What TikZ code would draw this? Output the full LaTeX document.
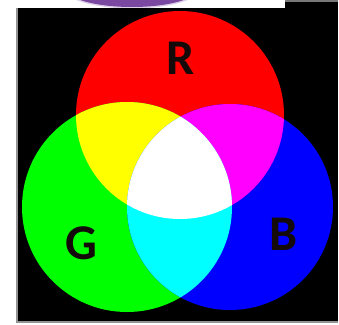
\documentclass[tikz,border=0pt]{standalone}
\usepackage{fontspec}
\setmainfont{Carlito}
\definecolor{lilac}{RGB}{122,72,160}
\definecolor{edgegray}{RGB}{120,120,120}
\definecolor{pR}{RGB}{255,0,0}
\definecolor{pG}{RGB}{0,255,0}
\definecolor{pB}{RGB}{0,0,255}
\definecolor{sY}{RGB}{255,255,0}
\definecolor{sM}{RGB}{255,0,255}
\definecolor{sC}{RGB}{0,255,255}
\definecolor{ink}{RGB}{20,10,10}
\begin{document}
\begin{tikzpicture}[x=1pt,y=-1pt,
  lbl/.style={text=ink, inner sep=0pt, font=\fontsize{50}{50}\selectfont\bfseries}]
\useasboundingbox (0,0) rectangle (339,324);
\fill[white] (0,0) rectangle (339,324);
% purple shape cut at top
\fill[lilac!25] (132,-11.5) ellipse [x radius=68pt, y radius=20pt];
\fill[lilac] (132,-11.5) ellipse [x radius=66pt, y radius=18.5pt];
% black background
\fill[black] (17,8) rectangle (338,322);
\fill[black] (285,0) rectangle (338,8);
\draw[edgegray, line width=1.5pt] (285,1) -- (338,1);
\draw[edgegray!80, line width=1.2pt] (17,8) -- (17,322) -- (338,322);
% circle centres
\coordinate (cR) at (180,115);
\coordinate (cG) at (127,207);
\coordinate (cB) at (230,207);
% primaries
\fill[pR] (cR) circle [radius=104pt];
\fill[pG] (cG) circle [radius=105pt];
\fill[pB] (cB) circle [radius=103pt];
% secondaries
\begin{scope}
  \clip (cR) circle [radius=104pt];
  \fill[sY] (cG) circle [radius=105pt];
\end{scope}
\begin{scope}
  \clip (cR) circle [radius=104pt];
  \fill[sM] (cB) circle [radius=103pt];
\end{scope}
\begin{scope}
  \clip (cG) circle [radius=105pt];
  \fill[sC] (cB) circle [radius=103pt];
\end{scope}
% white centre
\begin{scope}
  \clip (cR) circle [radius=104pt];
  \clip (cG) circle [radius=105pt];
  \fill[white] (cB) circle [radius=103pt];
\end{scope}
% labels
\node[lbl] (R) at (181,58) {R};
\node[lbl] (G) at (81,243) {G};
\node[lbl] (B) at (283.5,234) {B};
\end{tikzpicture}
\end{document}
